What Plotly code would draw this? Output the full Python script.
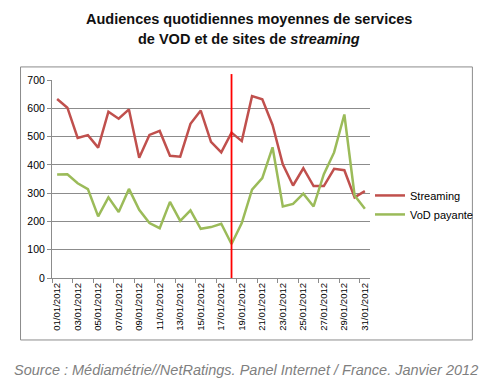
import plotly.graph_objects as go

dates = [f"{d:02d}/01/2012" for d in range(1, 32)]
streaming = [633, 602, 495, 505, 461, 588, 563, 596, 425, 506, 520, 432, 429, 545, 592, 481,
             444, 514, 484, 643, 632, 541, 402, 327, 388, 325, 325, 386, 381, 285, 307]
vod = [366, 367, 335, 314, 218, 285, 233, 315, 241, 194, 176, 269, 202, 239, 174, 180,
       192, 120, 194, 312, 353, 462, 253, 262, 298, 253, 367, 444, 578, 292, 245]
y_ticks = [0, 100, 200, 300, 400, 500, 600, 700]
event_date = "18/01/2012"

pos = list(range(1, len(dates) + 1))
event_pos = dates.index(event_date) + 1

fig = go.Figure()
fig.add_trace(go.Scatter(x=pos, y=streaming, mode="lines", name="Streaming",
                         line=dict(color="#c0504d", width=2.5)))
fig.add_trace(go.Scatter(x=pos, y=vod, mode="lines", name="VoD payante",
                         line=dict(color="#9bbb59", width=2.5)))

fig.add_shape(type="line", xref="x", yref="paper", x0=event_pos, x1=event_pos,
              y0=0, y1=1.03, line=dict(color="#ff0000", width=1.8))

# chart border (Excel chart area)
fig.add_shape(type="rect", xref="paper", yref="paper",
              x0=-0.099, x1=1.322, y0=-0.313, y1=1.066,
              line=dict(color="#8c8c8c", width=1), layer="above")

fig.update_layout(
    width=500, height=381,
    margin=dict(l=52, r=130, t=80, b=103),
    paper_bgcolor="white", plot_bgcolor="white",
    font=dict(family="Liberation Sans, Arial, sans-serif", color="#000"),
    showlegend=True,
    legend=dict(x=1.0, xanchor="left", y=0.369, yanchor="middle",
                font=dict(size=11, color="#000"), bgcolor="rgba(0,0,0,0)",
                itemwidth=30, tracegroupgap=0),
    xaxis=dict(range=[0.5, len(dates) + 0.5], tickmode="array",
               tickvals=pos[::2], ticktext=dates[::2], tickangle=-90,
               ticks="", showgrid=False, zeroline=False,
               showline=True, linecolor="#8c8c8c", linewidth=1,
               tickfont=dict(size=9.6, color="#000"),
               minor=dict(tick0=0.5, dtick=2, ticks="outside", ticklen=4,
                          tickcolor="#8c8c8c", showgrid=False)),
    yaxis=dict(range=[0, 700], tickmode="array", tickvals=y_ticks,
               showgrid=True, gridcolor="#8c8c8c", gridwidth=1, zeroline=False,
               showline=True, linecolor="#8c8c8c", linewidth=1,
               ticks="outside", ticklen=4, tickcolor="#8c8c8c",
               tickfont=dict(size=10.5, color="#000")),
)

fig.add_annotation(text="<b>Audiences quotidiennes moyennes de services</b>",
                   xref="paper", yref="paper", x=0.62, y=1.308,
                   xanchor="center", yanchor="middle", showarrow=False,
                   font=dict(size=14.5, color="#111"))
fig.add_annotation(text="<b>de VOD et de sites de <i>streaming</i></b>",
                   xref="paper", yref="paper", x=0.62, y=1.207,
                   xanchor="center", yanchor="middle", showarrow=False,
                   font=dict(size=14.5, color="#111"))
fig.add_annotation(text="<i>Source : Médiamétrie//NetRatings. Panel Internet / France. Janvier 2012</i>",
                   xref="paper", yref="paper", x=0.61, y=-0.465,
                   xanchor="center", yanchor="middle", showarrow=False,
                   font=dict(size=14.5, color="#7f7f7f"))

fig.write_html("out.html", config={"displayModeBar": False},
               post_script="document.body.style.margin='0';")
